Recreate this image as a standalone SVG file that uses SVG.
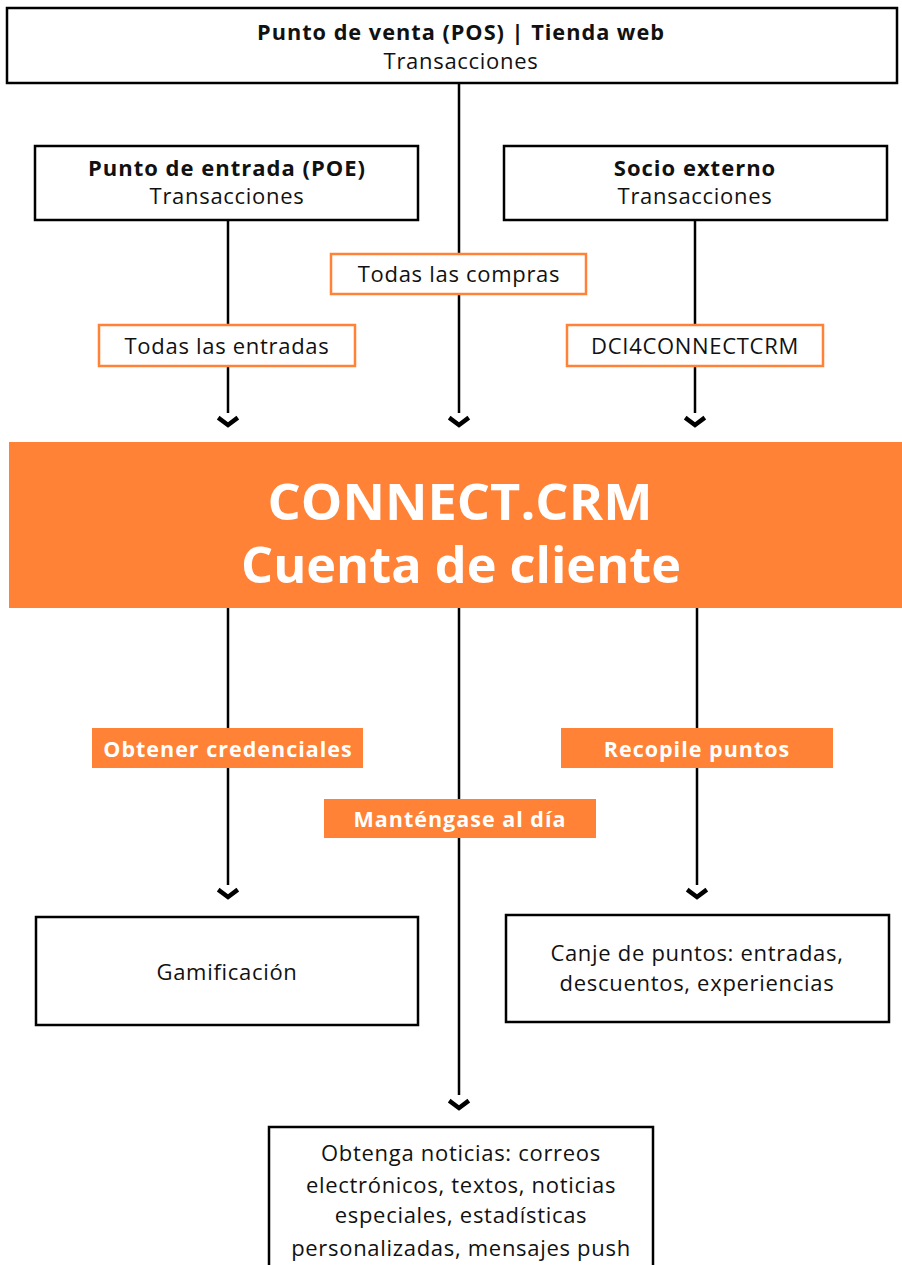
<svg xmlns="http://www.w3.org/2000/svg" width="902" height="1265" viewBox="0 0 902 1265">
<defs>
<style>
.box{fill:#fff;stroke:#000;stroke-width:2.5}
.lbl{fill:#fff;stroke:#FF8236;stroke-width:2.5}
.olbl{fill:#FF8236;stroke:none}
.t{font-family:"Open Sans","Noto Sans",sans-serif;font-size:22px;letter-spacing:0.7px;fill:#111;text-anchor:middle}
.b{font-weight:bold;letter-spacing:1px}
.w{font-family:"Open Sans","Noto Sans",sans-serif;font-size:21.5px;letter-spacing:1px;font-weight:bold;fill:#fff;text-anchor:middle}
.h{font-family:"Open Sans","Noto Sans",sans-serif;font-size:50px;font-weight:bold;fill:#fff;text-anchor:middle}
.line{stroke:#000;stroke-width:2.5;fill:none}
.chev{stroke:#000;stroke-width:4.5;fill:none;stroke-linecap:square;stroke-linejoin:miter}
</style>
</defs>
<rect width="902" height="1265" fill="#fff"/>
<g id="connectors">
<line class="line" x1="459" y1="83" x2="459" y2="413"/>
<line class="line" x1="228" y1="220" x2="228" y2="413"/>
<line class="line" x1="695" y1="220" x2="695" y2="413"/>
<line class="line" x1="228" y1="608" x2="228" y2="885"/>
<line class="line" x1="459" y1="608" x2="459" y2="1095"/>
<line class="line" x1="697" y1="608" x2="697" y2="885"/>
<path class="chev" d="M220 419 L228 425 L236 419"/>
<path class="chev" d="M451 419 L459 425 L467 419"/>
<path class="chev" d="M687 419 L695 425 L703 419"/>
<path class="chev" d="M220 891 L228 897 L236 891"/>
<path class="chev" d="M689 891 L697 897 L705 891"/>
<path class="chev" d="M451 1102 L459 1108 L467 1102"/>
</g>
<g id="pos">
<rect class="box" x="7" y="8" width="890" height="75"/>
<text class="t b" x="461" y="40" textLength="408" lengthAdjust="spacingAndGlyphs">Punto de venta (POS) | Tienda web</text>
<text class="t" x="461" y="69">Transacciones</text>
</g>
<g id="poe">
<rect class="box" x="35" y="146" width="383" height="74"/>
<text class="t b" x="227" y="176">Punto de entrada (POE)</text>
<text class="t" x="227" y="204">Transacciones</text>
</g>
<g id="socio">
<rect class="box" x="504" y="146" width="383" height="74"/>
<text class="t b" x="695" y="176">Socio externo</text>
<text class="t" x="695" y="204">Transacciones</text>
</g>
<g id="lbl-compras">
<rect class="lbl" x="331" y="254" width="255" height="40"/>
<text class="t" x="459" y="282">Todas las compras</text>
</g>
<g id="lbl-entradas">
<rect class="lbl" x="99" y="325" width="256" height="41"/>
<text class="t" x="227" y="354">Todas las entradas</text>
</g>
<g id="lbl-dci">
<rect class="lbl" x="567" y="325" width="256" height="41"/>
<text class="t" x="695" y="354">DCI4CONNECTCRM</text>
</g>
<g id="crm">
<rect x="9" y="442" width="893" height="166" fill="#FF8236"/>
<text class="h" x="460" y="520" textLength="385" lengthAdjust="spacingAndGlyphs">CONNECT.CRM</text>
<text class="h" x="461" y="583" textLength="440" lengthAdjust="spacingAndGlyphs">Cuenta de cliente</text>
</g>
<g id="lbl-credenciales">
<rect class="olbl" x="92" y="728" width="271" height="40"/>
<text class="w" x="228" y="757">Obtener credenciales</text>
</g>
<g id="lbl-recopile">
<rect class="olbl" x="561" y="728" width="272" height="40"/>
<text class="w" x="697" y="757">Recopile puntos</text>
</g>
<g id="lbl-mantengase">
<rect class="olbl" x="324" y="799" width="272" height="39"/>
<text class="w" x="460" y="827">Manténgase al día</text>
</g>
<g id="gamificacion">
<rect class="box" x="36" y="917" width="382" height="108"/>
<text class="t" x="227" y="980">Gamificación</text>
</g>
<g id="canje">
<rect class="box" x="506" y="915" width="383" height="107"/>
<text class="t" x="697" y="961">Canje de puntos: entradas,</text>
<text class="t" x="697" y="991">descuentos, experiencias</text>
</g>
<g id="noticias">
<rect class="box" x="269" y="1127" width="384" height="145"/>
<text class="t" x="461" y="1161">Obtenga noticias: correos</text>
<text class="t" x="461" y="1193">electrónicos, textos, noticias</text>
<text class="t" x="461" y="1223">especiales, estadísticas</text>
<text class="t" x="461" y="1256">personalizadas, mensajes push</text>
</g>
</svg>
